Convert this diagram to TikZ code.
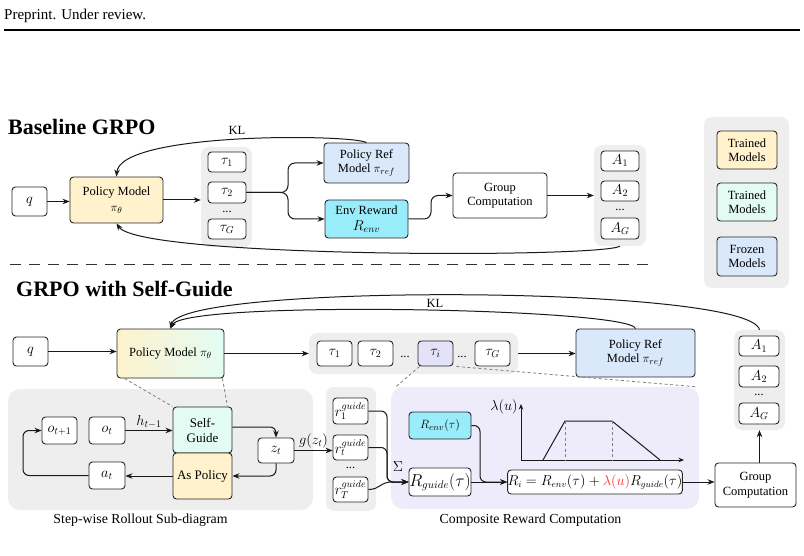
\documentclass[tikz,border=0pt]{standalone}
\usepackage{fontspec}
\setmainfont{Liberation Serif}
\usetikzlibrary{arrows.meta}
\definecolor{cyell}{HTML}{FFF2CC}
\definecolor{cmint}{HTML}{E2FCF4}
\definecolor{cblue}{HTML}{DAE8FC}
\definecolor{ccyan}{HTML}{99ECFA}
\definecolor{cgray}{HTML}{EEEEEE}
\definecolor{clav}{HTML}{EEEBFA}
\definecolor{ctaui}{HTML}{E4E2F8}
\definecolor{cred}{HTML}{FF2A2A}
\newcommand{\mynf}{\fontsize{12.5}{14.5}\selectfont}
\newcommand{\mymf}{\fontsize{14.5}{16}\selectfont}
\newcommand{\mytitlef}{\fontsize{22}{26}\selectfont\bfseries}
\newcommand{\mycapf}{\fontsize{13.8}{16}\selectfont}
\begin{document}
\begin{tikzpicture}[x=1pt,y=-1pt,
  box/.style={draw=black!85, line width=0.9pt, rounded corners=3.5pt, align=center, inner sep=0pt, font=\mynf, text=black, fill=white},
  mbox/.style={box, font=\mymf},
  bgbox/.style={fill=cgray, rounded corners=8pt, inner sep=0pt, draw=none},
  arr/.style={-{Stealth[length=7pt,width=5.5pt]}, line width=1pt, draw=black!90},
  smallarr/.style={-{Stealth[length=5.5pt,width=4.5pt]}, line width=0.9pt, draw=black!90},
  ln/.style={line width=1pt, draw=black!90},
  guideline/.style={draw=gray, dash pattern=on 3pt off 2.5pt, line width=0.8pt},
  lbl/.style={font=\mynf, inner sep=1pt}
]
\useasboundingbox (0,0) rectangle (804,556);

% header
\node[anchor=base west, inner sep=0pt, font=\fontsize{15}{17}\selectfont] (hdr) at (4,20) {Preprint. Under review.};
\draw[line width=2.6pt] (4,30) -- (800,30);

% titles
\node[anchor=base west, inner sep=0pt, font=\mytitlef] (title1) at (8,135) {Baseline GRPO};
\node[anchor=base west, inner sep=0pt, font=\mytitlef] (title2) at (16,297) {GRPO with Self-Guide};

% ---------------- Baseline ----------------
\node[bgbox, minimum width=51pt, minimum height=100pt] (tb1) at (226.5,197) {};
\node[bgbox, minimum width=52pt, minimum height=101pt] (ab1) at (620,195.5) {};
\node[bgbox, minimum width=85pt, minimum height=171pt] (legbg) at (746.5,202.5) {};

\node[mbox, minimum width=35pt, minimum height=29pt] (q1) at (29.5,201.5) {$q$};
\node[box, fill=cyell, minimum width=93pt, minimum height=46pt] (pm1) at (116.5,200) {Policy Model\\[2pt]$\pi_\theta$};
\node[mbox, minimum width=38pt, minimum height=20pt] (tau11) at (227,162) {$\tau_1$};
\node[mbox, minimum width=38pt, minimum height=21pt] (tau12) at (227,192.5) {$\tau_2$};
\node[lbl] (tdots1) at (227,212) {...};
\node[mbox, minimum width=38pt, minimum height=20pt] (tau1G) at (227,229) {$\tau_G$};
\node[box, fill=cblue, minimum width=85pt, minimum height=40pt] (ref1) at (366.5,163) {Policy Ref\\Model $\pi_{ref}$};
\node[box, fill=ccyan, minimum width=83pt, minimum height=38pt] (env1) at (366.5,219) {Env Reward\\[1pt]{\mymf$R_{env}$}};
\node[box, minimum width=94pt, minimum height=45pt] (grp1) at (500,195.5) {Group\\Computation};
\node[mbox, minimum width=38pt, minimum height=20pt] (a11) at (620,161) {$A_1$};
\node[mbox, minimum width=38pt, minimum height=20pt] (a12) at (620,191) {$A_2$};
\node[lbl] (adots1) at (620,210) {...};
\node[mbox, minimum width=38pt, minimum height=21pt] (a1G) at (620,228.5) {$A_G$};

\node[box, fill=cyell, minimum width=60pt, minimum height=38pt] (leg1) at (747,150) {Trained\\Models};
\node[box, fill=cmint, minimum width=60pt, minimum height=38pt] (leg2) at (747,202) {Trained\\Models};
\node[box, fill=cblue, minimum width=60pt, minimum height=39pt] (leg3) at (747,256.5) {Frozen\\Models};

\draw[arr] (q1.east) -- (pm1.west |- q1.east);
\draw[arr] (pm1.east) -- (tb1.west |- pm1.east);
\draw[arr, rounded corners=7pt] (tau12.east) -- (288,192.5) -- (288,163) -- (ref1.west);
\draw[arr, rounded corners=7pt] (tau12.east) -- (288,192.5) -- (288,219) -- (env1.west);
\draw[arr, rounded corners=7pt] (env1.east) -- (431,219) -- (431,195.5) -- (grp1.west);
\draw[arr] (grp1.east) -- (ab1.west |- grp1.east);
\draw[arr] (ab1.south) .. controls (600,258) and (140,258) .. (pm1.south);
\draw[arr] (ref1.north) .. controls (350,134) and (120,132) .. (pm1.north);
\node[lbl] (kl1) at (237,130) {KL};

% separator
\draw[line width=1pt, black!80, dash pattern=on 11pt off 8pt] (10,265) -- (655,265);

% ---------------- Self-Guide ----------------
\node[bgbox, minimum width=209pt, minimum height=41pt] (tb2) at (413.5,353.5) {};
\node[bgbox, minimum width=51pt, minimum height=100pt] (ab2) at (759.5,380) {};
\node[bgbox, minimum width=305pt, minimum height=121pt, rounded corners=12pt] (stepbg) at (160.5,449.5) {};
\node[bgbox, minimum width=50pt, minimum height=124pt] (rbg) at (351,449) {};
\node[bgbox, fill=clav, minimum width=308pt, minimum height=122pt, rounded corners=12pt] (compbg) at (545,448) {};

\node[mbox, minimum width=35pt, minimum height=29pt] (q2) at (30.5,351.5) {$q$};
\node[box, left color=cyell, right color=cmint, minimum width=107pt, minimum height=49pt] (pm2) at (170.5,353.5) {Policy Model $\pi_\theta$};
\node[mbox, minimum width=35pt, minimum height=25pt] (t1) at (334.5,353.5) {$\tau_1$};
\node[mbox, minimum width=35pt, minimum height=25pt] (t2) at (375.5,353.5) {$\tau_2$};
\node[lbl] (tdots2) at (405,357) {...};
\node[mbox, fill=ctaui, minimum width=35pt, minimum height=25pt] (ti) at (435.5,353.5) {$\tau_i$};
\node[lbl] (tdots3) at (462,357) {...};
\node[mbox, minimum width=35pt, minimum height=25pt] (tG) at (492.5,353.5) {$\tau_G$};
\node[box, fill=cblue, minimum width=119pt, minimum height=48pt] (ref2) at (635.5,353) {Policy Ref\\Model $\pi_{ref}$};
\node[mbox, minimum width=40pt, minimum height=20pt] (a21) at (759,346) {$A_1$};
\node[mbox, minimum width=40pt, minimum height=21pt] (a22) at (759,376.5) {$A_2$};
\node[lbl] (adots2) at (759,395) {...};
\node[mbox, minimum width=40pt, minimum height=21pt] (a2G) at (759,413.5) {$A_G$};

% step-wise rollout
\node[mbox, minimum width=35pt, minimum height=27pt] (o1) at (59.5,430.5) {$o_{t+1}$};
\node[mbox, minimum width=36pt, minimum height=27pt] (ot) at (107,430.5) {$o_t$};
\node[box, fill=cmint, minimum width=59pt, minimum height=46pt, font=\fontsize{13}{15}\selectfont] (sg) at (202.5,430) {Self-\\Guide};
\node[box, fill=cyell, minimum width=59pt, minimum height=46pt, font=\fontsize{13}{15}\selectfont] (ap) at (202.5,476) {As Policy};
\node[mbox, minimum width=36pt, minimum height=25pt] (zt) at (276,450.5) {$z_t$};
\node[mbox, minimum width=36pt, minimum height=27pt] (at) at (107,475.5) {$a_t$};
\node[font=\mycapf, inner sep=0pt] (cap1) at (140.5,520) {Step-wise Rollout Sub-diagram};

% guide rewards
\node[mbox, minimum width=35pt, minimum height=26pt] (r1) at (350.5,411) {$r_1^{guide}$};
\node[mbox, minimum width=35pt, minimum height=25pt] (rt) at (350.5,447.5) {$r_t^{guide}$};
\node[lbl] (rdots) at (350.5,468) {...};
\node[mbox, minimum width=35pt, minimum height=25pt] (rT) at (350.5,489.5) {$r_T^{guide}$};

% composite reward
\node[box, fill=ccyan, minimum width=62pt, minimum height=27pt, font=\fontsize{13}{15}\selectfont] (Renv) at (440,425.5) {$R_{env}(\tau)$};
\node[box, minimum width=62pt, minimum height=28pt, font=\fontsize{16}{18}\selectfont] (Rg) at (440,482) {$R_{guide}(\tau)$};
\node[box, minimum width=166pt, minimum height=24pt, font=\fontsize{13.3}{15}\selectfont] (Ri) at (595,482) {$R_i = R_{env}(\tau) + {\color{cred}\lambda(u)} R_{guide}(\tau)$};
\node[font=\mycapf, inner sep=0pt] (cap2) at (530.5,520) {Composite Reward Computation};
\node[box, minimum width=81pt, minimum height=44pt] (grp2) at (755.5,485) {Group\\Computation};

% lambda plot
\draw[smallarr] (521,460) -- (521,404);
\draw[smallarr] (521,460) -- (684,460);
\draw[line width=1pt, black!90] (543,460) -- (565,421) -- (612,421) -- (660,460);
\draw[gray, line width=0.8pt, dash pattern=on 3pt off 2.5pt] (565,421) -- (565,460);
\draw[gray, line width=0.8pt, dash pattern=on 3pt off 2.5pt] (612,421) -- (612,460);
\node[font=\fontsize{13.5}{15}\selectfont, inner sep=0pt] (lam) at (504,407) {$\lambda(u)$};

% connectors
\draw[arr] (q2.east) -- (pm2.west |- q2.east);
\draw[arr] (pm2.east) -- (tb2.west |- pm2.east);
\draw[arr] (tb2.east) -- (ref2.west |- tb2.east);
\draw[arr] (ab2.north) .. controls (750,285) and (180,283) .. (pm2.north);
\draw[arr] (ref2.north) .. controls (630,308) and (185,300) .. (pm2.north);
\node[lbl] (kl2) at (435,303) {KL};
\draw[arr] (ab2.south |- grp2.north) -- (ab2.south);

\draw[guideline] ([xshift=8pt]pm2.south west) -- (sg.north west);
\draw[guideline] ([xshift=-2pt]pm2.south east) -- ([xshift=-5pt]sg.north east);
\draw[guideline] ([xshift=2pt]ti.south west) -- ([xshift=5pt]compbg.north west);
\draw[guideline] ([xshift=3pt]ti.south east) -- ([xshift=-3pt]compbg.north east);

\draw[arr] (ot.east) -- (sg.west |- ot.east) node[midway, above, inner sep=2pt, font=\mymf] {$h_{t-1}$};
\draw[arr, rounded corners=6pt] ([yshift=3pt]sg.east) -| (zt.north);
\draw[arr, rounded corners=6pt] (zt.south) |- (ap.east);
\draw[arr] (ap.west) -- (at.east |- ap.west);
\draw[arr, rounded corners=6pt] (at.west) -- (23,475.5) |- (o1.west);
\draw[arr] (zt.east) -- (rt.west |- zt.east) node[midway, above, inner sep=2pt, font=\mymf] {$g(z_t)$};

\draw[arr, rounded corners=6pt] (r1.east) -- (387,411) -- (387,482) -- (Rg.west);
\draw[arr, rounded corners=6pt] (rt.east) -- (387,447.5) -- (387,482) -- (Rg.west);
\draw[arr] (rT.east) .. controls (380,489.5) and (380,482) .. (392,482) -- (Rg.west);
\node[font=\mymf, inner sep=1pt] (sigma) at (398,467) {$\Sigma$};

\draw[arr, rounded corners=6pt] (Renv.east) -- (480,425.5) -- (480,482) -- (Ri.west);
\draw[arr] (Rg.east) -- (Ri.west);
\draw[arr] (Ri.east) -- (grp2.west |- Ri.east);
\end{tikzpicture}
\end{document}
